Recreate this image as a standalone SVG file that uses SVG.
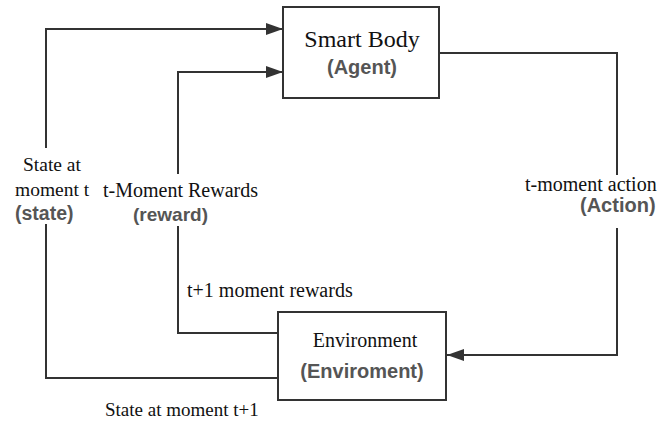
<svg xmlns="http://www.w3.org/2000/svg" width="657" height="423" viewBox="0 0 657 423">
<style>
.box{fill:#fff;stroke:#333;stroke-width:2}
.ln{fill:none;stroke:#333;stroke-width:2}
.s{font-family:"Liberation Serif","Times New Roman",serif;fill:#111}
.b{font-family:"Liberation Sans",Arial,sans-serif;font-weight:bold;fill:#555}
</style>
<defs>
<marker id="ah" markerUnits="userSpaceOnUse" markerWidth="17" markerHeight="12" refX="17" refY="6" orient="auto">
<path d="M0,0 L17,6 L0,12 z" fill="#333"/>
</marker>
</defs>
<rect width="657" height="423" fill="#fff"/>
<g id="connectors">
<path class="ln" d="M278 378 H46 V224"/>
<path class="ln" d="M46 148 V29 H283" marker-end="url(#ah)"/>
<path class="ln" d="M278 333 H178 V226"/>
<path class="ln" d="M178 174 V72 H283" marker-end="url(#ah)"/>
<path class="ln" d="M439 53 H617 V175"/>
<path class="ln" d="M617 228 V355 H447" marker-end="url(#ah)"/>
</g>
<g id="agent">
<rect class="box" x="283" y="7" width="156" height="91"/>
<text class="s" x="362" y="47" font-size="24" text-anchor="middle">Smart Body</text>
<text class="b" x="362" y="74" font-size="20" text-anchor="middle">(Agent)</text>
</g>
<g id="environment">
<rect class="box" x="278" y="312" width="168" height="88"/>
<text class="s" x="365" y="347" font-size="20" text-anchor="middle">Environment</text>
<text class="b" x="362" y="378" font-size="20" text-anchor="middle">(Enviroment)</text>
</g>
<g id="labels">
<text class="s" x="23" y="171" font-size="19.5">State at</text>
<text class="s" x="15" y="196" font-size="19.5">moment t</text>
<text class="b" x="15" y="220" font-size="19.5">(state)</text>
<text class="s" x="103" y="197" font-size="20">t-Moment Rewards</text>
<text class="b" x="133" y="221" font-size="19">(reward)</text>
<text class="s" x="525" y="191" font-size="20">t-moment action</text>
<text class="b" x="580" y="212" font-size="20">(Action)</text>
<text class="s" x="187" y="297" font-size="20">t+1 moment rewards</text>
<text class="s" x="105" y="416" font-size="19">State at moment t+1</text>
</g>
</svg>
